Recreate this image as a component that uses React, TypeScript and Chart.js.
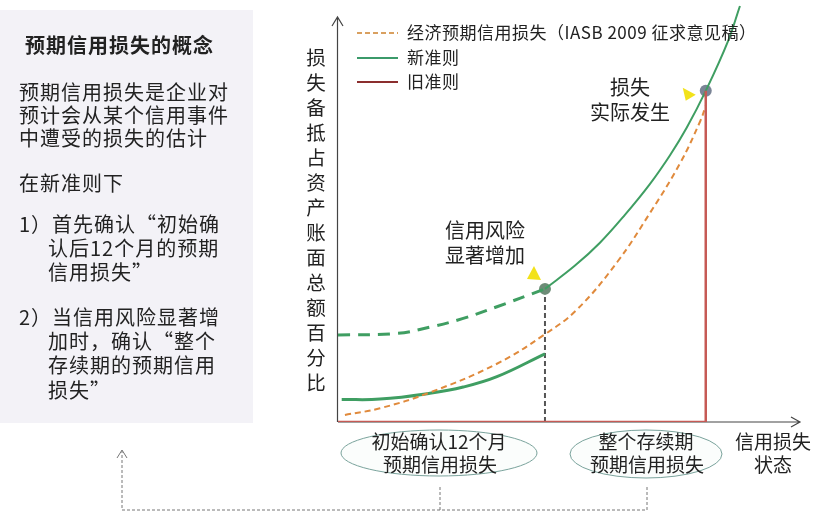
import React, { useEffect, useRef } from "react";
import { Chart, registerables } from "chart.js";
Chart.register(...registerables);

// 新准则：初始确认后12个月预期信用损失（实线，前段）
const newEarlyX = [0.8, 9.1, 19.9, 27.1, 34.4, 44.8];
const newEarlyY = [5.4, 5.5, 6.9, 8.4, 10.9, 16.4];
// 新准则：整个存续期预期信用损失（虚线，前段）
const newLifeDashX = [0, 12.8, 19.9, 27.1, 34.4, 44.8];
const newLifeDashY = [20.9, 21.3, 22.8, 24.9, 27.7, 32.0];
// 新准则：信用风险显著增加之后（实线）
const newLifeX = [44.8, 51.3, 56.7, 62.1, 67.5, 71.9, 75.5, 79.6, 84.4, 87.0];
const newLifeY = [32.0, 37.6, 43.1, 49.8, 57.2, 64.2, 70.8, 79.6, 91.5, 100];
// 经济预期信用损失（IASB 2009 征求意见稿）
const econX = [1.5, 9.1, 19.9, 34.4, 44.8, 51.7, 60.4, 67.5, 74.0, 78.4, 79.6];
const econY = [1.7, 3.3, 7.1, 14.0, 21.1, 27.0, 38.4, 50.2, 62.1, 72.3, 76.0];
// 旧准则
const oldX = [0, 79.6, 79.6];
const oldY = [0, 0, 79.6];
// 关键节点
const eventX = [44.8, 79.6];
const eventY = [32.0, 79.6];
const eventColors = ["#6d8c77", "#7a8496"];

const legendLabels = ["经济预期信用损失（IASB 2009 征求意见稿）", "新准则", "旧准则"];
const yAxisTitle = "损失备抵占资产账面总额百分比";
const xAxisTitle = ["信用损失", "状态"];
const stageLabels = [
  ["初始确认12个月", "预期信用损失"],
  ["整个存续期", "预期信用损失"],
];
const eventLabels = [
  ["信用风险", "显著增加"],
  ["损失", "实际发生"],
];
const panelTitle = "预期信用损失的概念";
const panelLines: [string, number, number][] = [
  ["预期信用损失是企业对", 19, 92],
  ["预计会从某个信用事件", 19, 115],
  ["中遭受的损失的估计", 19, 138],
  ["在新准则下", 19, 183],
  ["1）首先确认“初始确", 19, 224],
  ["认后12个月的预期", 48, 248],
  ["信用损失”", 48, 272],
  ["2）当信用风险显著增", 19, 317],
  ["加时，确认“整个", 48, 341],
  ["存续期的预期信用", 48, 365],
  ["损失”", 48, 390],
];

const pts = (xs: number[], ys: number[]) => xs.map((x, i) => ({ x, y: ys[i] }));

const FONT = "'Noto Sans CJK SC', 'Noto Sans', sans-serif";
const GREEN = "#3f9e62";

const decorPlugin = {
  id: "decor",
  beforeDraw(chart: any) {
    const ctx = chart.ctx;
    ctx.save();
    ctx.fillStyle = "#ffffff";
    ctx.fillRect(0, 0, chart.width, chart.height);
    ctx.fillStyle = "#f3f2f7";
    ctx.fillRect(0, 10, 253, 413);
    ctx.restore();
  },
  beforeDatasetsDraw(chart: any) {
    const ctx = chart.ctx;
    const a = chart.chartArea;
    ctx.save();
    ctx.strokeStyle = "#444";
    ctx.lineWidth = 1.2;
    ctx.beginPath();
    ctx.moveTo(a.left - 0.5, a.bottom);
    ctx.lineTo(a.left - 0.5, 17);
    ctx.moveTo(a.left - 6, 26);
    ctx.lineTo(a.left - 0.5, 17);
    ctx.lineTo(a.left + 5, 26);
    ctx.stroke();
    ctx.beginPath();
    ctx.moveTo(a.left, a.bottom);
    ctx.lineTo(a.right, a.bottom);
    ctx.moveTo(a.right - 9, a.bottom - 5);
    ctx.lineTo(a.right, a.bottom);
    ctx.lineTo(a.right - 9, a.bottom + 5);
    ctx.stroke();
    ctx.restore();
  },
  afterDraw(chart: any) {
    const ctx = chart.ctx;
    const xs = chart.scales.x;
    const ys = chart.scales.y;
    ctx.save();
    ctx.textBaseline = "middle";
    ctx.fillStyle = "#222";

    // left panel
    ctx.letterSpacing = "1px";
    ctx.textAlign = "left";
    ctx.font = `bold 20px ${FONT}`;
    ctx.fillText(panelTitle, 25, 45);
    ctx.font = `20px ${FONT}`;
    for (const [t, x, y] of panelLines) ctx.fillText(t, x, y);
    ctx.letterSpacing = "0px";

    // y axis title (vertical)
    ctx.textAlign = "center";
    ctx.font = `19.5px ${FONT}`;
    Array.from(yAxisTitle).forEach((ch, i) => ctx.fillText(ch, 316, 58 + i * 25));

    // legend
    const legendY = [33, 58, 82];
    const legendStyles = [
      { c: "#d9a060", d: [5, 3], w: 2 },
      { c: "#3b9a6a", d: [], w: 2 },
      { c: "#8b2e2e", d: [], w: 2 },
    ];
    legendLabels.forEach((t, i) => {
      const s = legendStyles[i];
      ctx.strokeStyle = s.c;
      ctx.lineWidth = s.w;
      ctx.setLineDash(s.d);
      ctx.beginPath();
      ctx.moveTo(357, legendY[i]);
      ctx.lineTo(398, legendY[i]);
      ctx.stroke();
      ctx.setLineDash([]);
      ctx.textAlign = "left";
      ctx.font = `17px ${FONT}`;
      ctx.letterSpacing = "0.5px";
      ctx.fillStyle = "#222";
      ctx.fillText(t, 407, legendY[i]);
      ctx.letterSpacing = "0px";
    });

    // event triangles
    const d1x = xs.getPixelForValue(eventX[0]);
    const d1y = ys.getPixelForValue(eventY[0]);
    const d2x = xs.getPixelForValue(eventX[1]);
    const d2y = ys.getPixelForValue(eventY[1]);
    ctx.fillStyle = "#f2e21a";
    ctx.beginPath();
    ctx.moveTo(d1x - 11, d1y - 23);
    ctx.lineTo(d1x - 4, d1y - 9);
    ctx.lineTo(d1x - 18, d1y - 10);
    ctx.closePath();
    ctx.fill();
    ctx.beginPath();
    ctx.moveTo(d2x - 23, d2y - 3);
    ctx.lineTo(d2x - 10, d2y + 4);
    ctx.lineTo(d2x - 20, d2y + 10);
    ctx.closePath();
    ctx.fill();

    // event labels
    ctx.fillStyle = "#222";
    ctx.textAlign = "center";
    ctx.font = `20px ${FONT}`;
    ctx.fillText(eventLabels[0][0], 485, 230);
    ctx.fillText(eventLabels[0][1], 485, 255);
    ctx.fillText(eventLabels[1][0], 630, 87);
    ctx.fillText(eventLabels[1][1], 630, 112);

    // stage ellipses
    const ells = [
      { cx: 439, cy: 453, rx: 98, ry: 23 },
      { cx: 646, cy: 454, rx: 76, ry: 24 },
    ];
    ells.forEach((e, i) => {
      ctx.beginPath();
      ctx.ellipse(e.cx, e.cy, e.rx, e.ry, 0, 0, Math.PI * 2);
      ctx.fillStyle = "#fbfdfc";
      ctx.fill();
      ctx.strokeStyle = "#7aa39c";
      ctx.lineWidth = 1;
      ctx.stroke();
      ctx.fillStyle = "#222";
      ctx.font = `19px ${FONT}`;
      ctx.fillText(stageLabels[i][0], e.cx, 442);
      ctx.fillText(stageLabels[i][1], e.cx + 1, 465);
    });

    // x axis title
    ctx.font = `19px ${FONT}`;
    ctx.fillText(xAxisTitle[0], 773, 442);
    ctx.fillText(xAxisTitle[1], 773, 465);

    // connector
    ctx.strokeStyle = "#777";
    ctx.lineWidth = 1;
    ctx.setLineDash([3, 2]);
    ctx.beginPath();
    ctx.moveTo(440, 487);
    ctx.lineTo(440, 510);
    ctx.moveTo(647, 487);
    ctx.lineTo(647, 510);
    ctx.lineTo(122, 510);
    ctx.lineTo(122, 451);
    ctx.stroke();
    ctx.setLineDash([]);
    ctx.beginPath();
    ctx.moveTo(117, 458);
    ctx.lineTo(122, 450);
    ctx.lineTo(127, 458);
    ctx.stroke();
    ctx.restore();
  },
};

export default function App() {
  const ref = useRef<HTMLCanvasElement>(null);
  useEffect(() => {
    if (!ref.current) return;
    const chart = new Chart(ref.current, {
      type: "scatter",
      data: {
        datasets: [
          {
            data: pts(oldX, oldY),
            showLine: true,
            borderColor: "#c65a55",
            borderWidth: 2.5,
            pointRadius: 0,
            tension: 0,
          },
          {
            data: pts(econX, econY),
            showLine: true,
            borderColor: "#e08a3c",
            borderWidth: 2,
            borderDash: [6, 4],
            pointRadius: 0,
            tension: 0.4,
          },
          {
            data: pts(newEarlyX, newEarlyY),
            showLine: true,
            borderColor: GREEN,
            borderWidth: 3,
            pointRadius: 0,
            tension: 0.4,
          },
          {
            data: pts(newLifeDashX, newLifeDashY),
            showLine: true,
            borderColor: GREEN,
            borderWidth: 3,
            borderDash: [12, 8],
            pointRadius: 0,
            tension: 0.4,
          },
          {
            data: pts(newLifeX, newLifeY),
            showLine: true,
            borderColor: GREEN,
            borderWidth: 2,
            pointRadius: 0,
            tension: 0.4,
            clip: false,
          },
          {
            data: [
              { x: eventX[0], y: 0 },
              { x: eventX[0], y: eventY[0] - 1.5 },
            ],
            showLine: true,
            borderColor: "#555",
            borderWidth: 2,
            borderDash: [5, 3],
            pointRadius: 0,
          },
          {
            data: pts(eventX, eventY),
            showLine: false,
            pointRadius: 6,
            pointBackgroundColor: eventColors,
            pointBorderWidth: 0,
            clip: false,
          },
        ],
      },
      options: {
        responsive: false,
        animation: false,
        layout: { padding: { left: 338, right: 22, top: 0, bottom: 102 } },
        scales: {
          x: { type: "linear", min: 0, max: 100, display: false },
          y: { type: "linear", min: 0, max: 100, display: false },
        },
        plugins: { legend: { display: false }, tooltip: { enabled: false } },
      },
      plugins: [decorPlugin],
    } as any);
    return () => chart.destroy();
  }, []);
  return (
    <div style={{ position: "absolute", left: 0, top: 0, width: 822, height: 524 }}>
      <canvas ref={ref} width={822} height={524} />
    </div>
  );
}
